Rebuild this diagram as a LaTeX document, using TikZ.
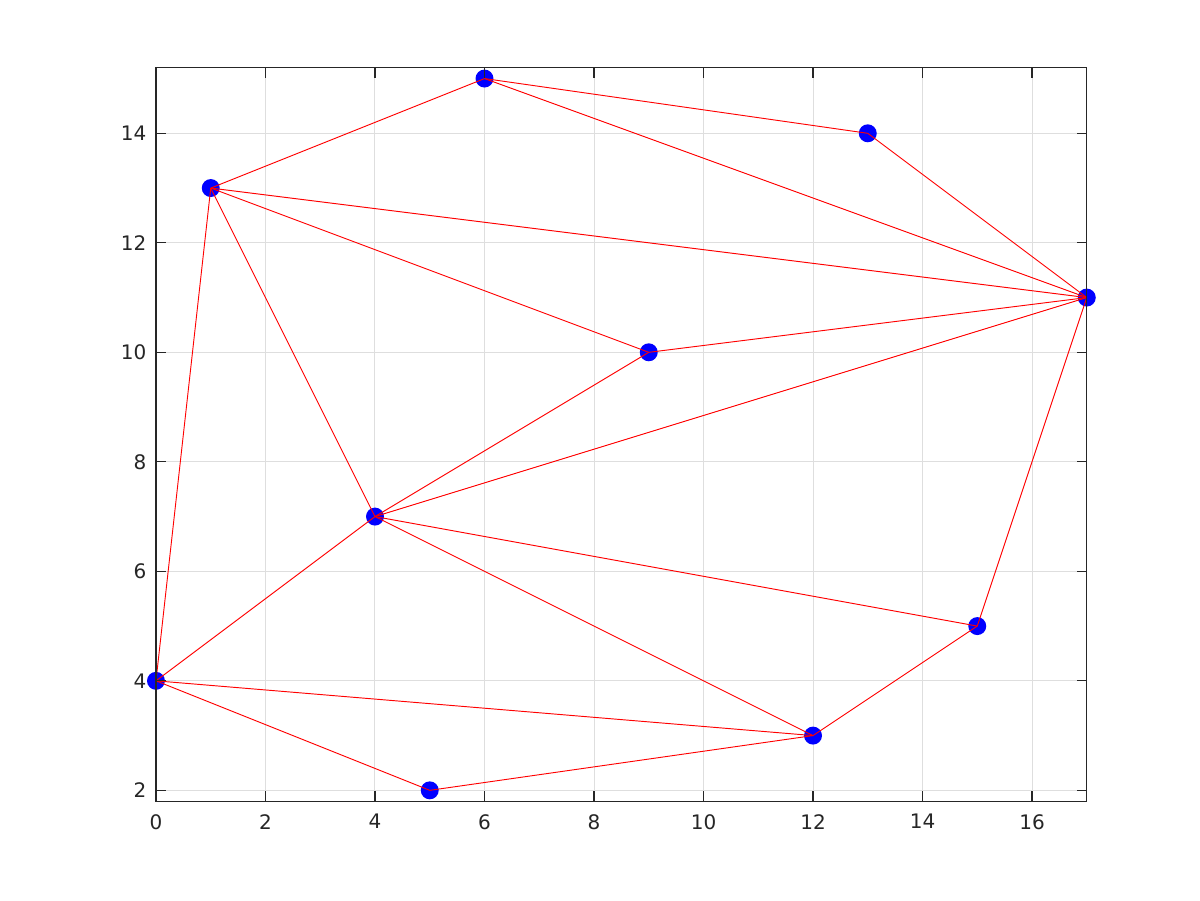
\documentclass[tikz,border=0pt]{standalone}
\usepackage{fontspec}
\setmainfont{DejaVu Sans}
\definecolor{axcol}{gray}{0.15}
\definecolor{gridcol}{gray}{0.87}
\begin{document}
\begin{tikzpicture}[x=41.06pt,y=41.06pt,
  gridline/.style={draw=gridcol,line width=0.75pt},
  axline/.style={draw=axcol,line width=0.8pt},
  ticklab/.style={text=axcol,inner sep=0pt,font=\fontsize{15}{18}\selectfont},
  edge/.style={draw=red,line width=0.7pt},
  pt/.style={fill=blue}]
\useasboundingbox (-2.849,-0.004) rectangle (19.068,16.435);
\fill[white] (-2.849,-0.004) rectangle (19.068,16.435);
% grid
\foreach \x in {2,4,...,16} \draw[gridline] (\x,1.8) -- (\x,15.2);
\foreach \y in {2,4,...,14} \draw[gridline] (0,\y) -- (17,\y);
% points
\coordinate (a) at (0,4);
\coordinate (b) at (5,2);
\coordinate (c) at (12,3);
\coordinate (d) at (15,5);
\coordinate (e) at (17,11);
\coordinate (f) at (13,14);
\coordinate (g) at (6,15);
\coordinate (h) at (1,13);
\coordinate (i) at (9,10);
\coordinate (j) at (4,7);
\foreach \p in {a,b,c,d,e,f,g,h,i,j} \fill[pt] (\p) circle (0.164);
% edges
\draw[edge] (g) -- (f);
\draw[edge] (g) -- (e);
\draw[edge] (g) -- (h);
\draw[edge] (f) -- (e);
\draw[edge] (h) -- (e);
\draw[edge] (h) -- (i);
\draw[edge] (h) -- (j);
\draw[edge] (h) -- (a);
\draw[edge] (i) -- (e);
\draw[edge] (i) -- (j);
\draw[edge] (j) -- (e);
\draw[edge] (j) -- (d);
\draw[edge] (j) -- (c);
\draw[edge] (j) -- (a);
\draw[edge] (e) -- (d);
\draw[edge] (d) -- (c);
\draw[edge] (a) -- (c);
\draw[edge] (a) -- (b);
\draw[edge] (b) -- (c);
% axes box and ticks
\draw[axline] (0,1.8) rectangle (17,15.2);
\foreach \x in {0,2,...,16} {
  \draw[axline] (\x,1.8) -- ++(0,0.1826);
  \draw[axline] (\x,15.2) -- ++(0,-0.1826);
  \node[ticklab,anchor=north] (xl\x) at (\x,1.568) {\x};
}
\foreach \y in {2,4,...,14} {
  \draw[axline] (0,\y) -- ++(0.1826,0);
  \draw[axline] (17,\y) -- ++(-0.1826,0);
  \node[ticklab,anchor=east] (yl\y) at (-0.17,\y) {\y};
}
\end{tikzpicture}
\end{document}
